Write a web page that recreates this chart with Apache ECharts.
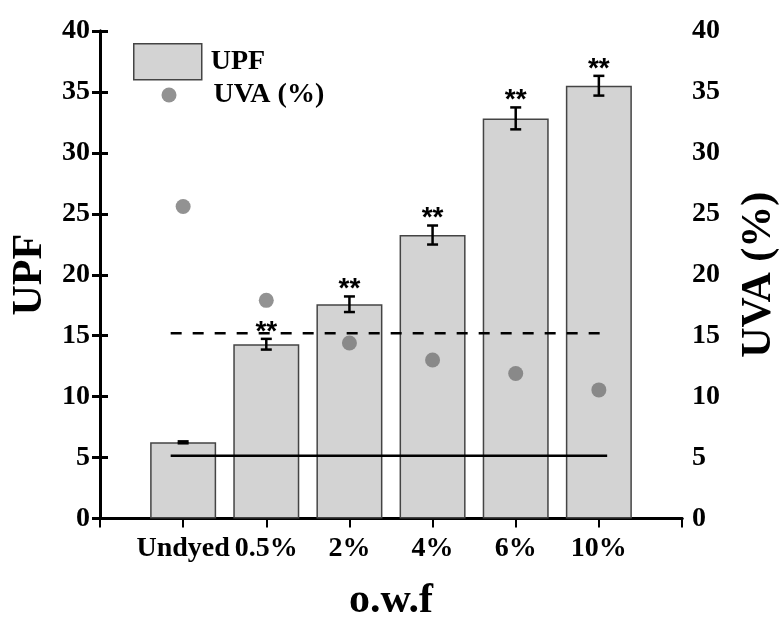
<!DOCTYPE html>
<html>
<head>
<meta charset="utf-8">
<script src="https://cdn.jsdelivr.net/npm/echarts@6/dist/echarts.min.js"></script>
<style>html,body{margin:0;padding:0;background:#fff}#c{width:779px;height:619px}</style>
</head>
<body>
<div id="c"></div>
<script>
const categories = ['Undyed', '0.5%', '2%', '4%', '6%', '10%'];
const upf = [6.25, 14.3, 17.58, 23.26, 32.83, 35.51];
const upfErr = [0.08, 0.44, 0.64, 0.78, 0.9, 0.81];
const uva = [25.6, 17.9, 14.4, 13.0, 11.9, 10.55];
const sig = ['', '**', '**', '**', '**', '**'];
const dashedLevel = 15.2;
const solidLevel = 5.15;
const lineSpan = [0.85, 6.1];
const yMin = 0, yMax = 40, yStep = 5;

const FONT = '"Liberation Serif", "Times New Roman", serif';
const pos = categories.map((_, i) => i + 1);

const chart = echarts.init(document.getElementById('c'), null, {renderer: 'canvas'});

const labelStyle = {fontSize: 28, fontWeight: 'bold', fontFamily: FONT, color: '#000'};
const nameStyle = {fontSize: 42, fontWeight: 'bold', fontFamily: FONT, color: '#000'};

function yAxis(position, name, gap) {
  return {
    type: 'value', position: position, min: yMin, max: yMax, interval: yStep,
    axisLine: {show: true, lineStyle: {color: '#000', width: 3}},
    axisTick: {show: true, inside: true, length: 8, lineStyle: {color: '#000', width: 3}},
    axisLabel: Object.assign({margin: 10}, labelStyle),
    splitLine: {show: false},
    name: name, nameLocation: 'middle', nameRotate: 90, nameGap: gap,
    nameTextStyle: nameStyle
  };
}

const option = {
  animation: false,
  backgroundColor: '#fff',
  grid: {left: 100, right: 97, top: 31, bottom: 100.5, containLabel: false, outerBoundsMode: 'none'},
  legend: [
    {
      data: ['UPF'], left: 133, top: 43, padding: 0, selectedMode: false,
      icon: 'rect', itemWidth: 68, itemHeight: 36,
      itemStyle: {borderColor: '#444', borderWidth: 1.5},
      textStyle: Object.assign({padding: [0, 0, 0, 4]}, labelStyle)
    },
    {
      data: ['UVA (%)'], left: 161.5, top: 81, padding: 0, selectedMode: false,
      icon: 'circle', itemWidth: 15, itemHeight: 15,
      textStyle: Object.assign({padding: [0, 0, 0, 32]}, labelStyle)
    }
  ],
  xAxis: [
    {
      type: 'value', position: 'bottom', min: 0, max: categories.length + 1, interval: 1,
      axisLine: {show: true, lineStyle: {color: '#000', width: 3}},
      axisTick: {show: true, inside: false, length: 9, lineStyle: {color: '#000', width: 2}},
      axisLabel: Object.assign({
        margin: 16,
        formatter: v => (v >= 1 && v <= categories.length) ? categories[v - 1] : ''
      }, labelStyle),
      splitLine: {show: false},
      name: 'o.w.f', nameLocation: 'middle', nameGap: 62, nameTextStyle: nameStyle
    },
    {
      type: 'value', position: 'top', min: 0, max: categories.length + 1, interval: 1,
      axisLine: {show: true, lineStyle: {color: '#000', width: 3}},
      axisTick: {show: false}, axisLabel: {show: false}, splitLine: {show: false}
    }
  ],
  yAxis: [yAxis('left', 'UPF', 48), yAxis('right', 'UVA (%)', 56)],
  series: [
    {
      name: 'UPF', type: 'bar', xAxisIndex: 0, yAxisIndex: 0, barWidth: 66, z: 2,
      itemStyle: {color: '#d3d3d3', borderColor: '#444', borderWidth: 1.5},
      data: pos.map((x, i) => [x, upf[i]])
    },
    {
      name: 'err', type: 'custom', xAxisIndex: 0, yAxisIndex: 0, z: 3,
      data: pos.map((x, i) => [x, upf[i] - upfErr[i], upf[i] + upfErr[i], i]),
      renderItem: function (params, api) {
        const x = api.value(0);
        const lo = api.coord([x, api.value(1)]);
        const hi = api.coord([x, api.value(2)]);
        const i = api.value(3);
        const cap = 5.5;
        const ls = {stroke: '#000', lineWidth: 2.5};
        const children = [
          {type: 'line', shape: {x1: lo[0], y1: lo[1], x2: hi[0], y2: hi[1]}, style: ls},
          {type: 'line', shape: {x1: lo[0] - cap, y1: lo[1], x2: lo[0] + cap, y2: lo[1]}, style: ls},
          {type: 'line', shape: {x1: hi[0] - cap, y1: hi[1], x2: hi[0] + cap, y2: hi[1]}, style: ls}
        ];
        if (sig[i]) {
          children.push({
            type: 'text',
            style: {text: sig[i], x: hi[0], y: hi[1] - 7, align: 'center', verticalAlign: 'middle',
              font: 'bold 28px "Liberation Sans", Arial, sans-serif', fill: '#000'}
          });
        }
        return {type: 'group', children: children};
      }
    },
    {
      name: 'dashed', type: 'line', xAxisIndex: 0, yAxisIndex: 0, z: 4, symbol: 'none',
      lineStyle: {color: '#000', width: 2.5, type: [11, 11]},
      data: lineSpan.map(x => [x, dashedLevel])
    },
    {
      name: 'solid', type: 'line', xAxisIndex: 0, yAxisIndex: 0, z: 4, symbol: 'none',
      lineStyle: {color: '#000', width: 2.5},
      data: lineSpan.map(x => [x, solidLevel])
    },
    {
      name: 'UVA (%)', type: 'scatter', xAxisIndex: 0, yAxisIndex: 1, z: 5,
      symbol: 'circle', symbolSize: 15,
      itemStyle: {color: '#777777'},
      data: pos.map((x, i) => [x, uva[i]])
    }
  ]
};
chart.setOption(option);
</script>
</body>
</html>
